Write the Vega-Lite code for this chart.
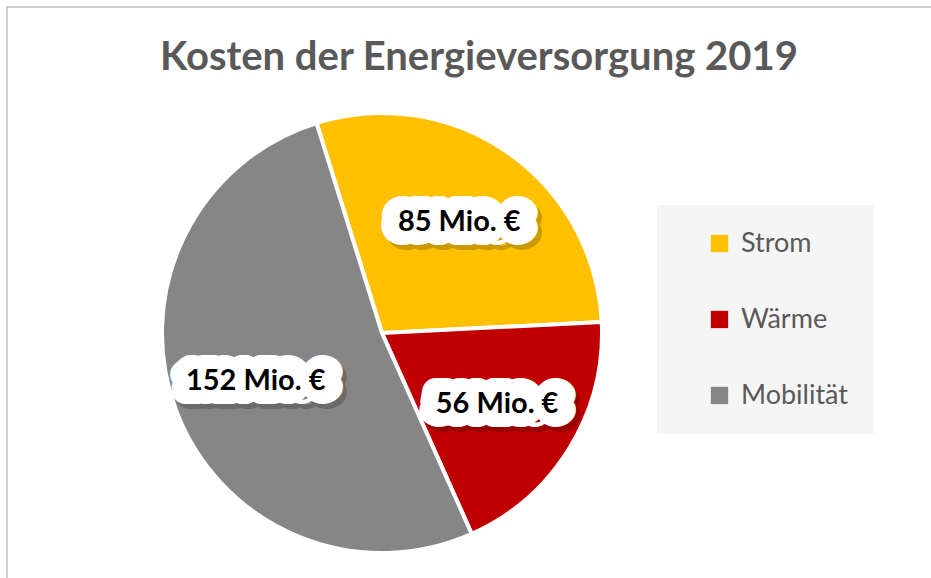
{
  "$schema": "https://vega.github.io/schema/vega-lite/v6.json",
  "width": 940,
  "height": 590,
  "autosize": "none",
  "padding": {"left": 7, "top": 7, "right": 0, "bottom": 0},
  "background": "white",
  "view": {"stroke": "#bdbdbd", "strokeWidth": 1.5},
  "config": {"view": {"stroke": "#bdbdbd", "strokeWidth": 1.5}},
  "title": {
    "text": "Kosten der Energieversorgung 2019",
    "font": "Lato",
    "fontSize": 40,
    "fontWeight": "bold",
    "color": "#595959",
    "anchor": "start",
    "offset": -71,
    "dx": 153
  },
  "data": {
    "values": [
      {"Kategorie": "Strom", "Wert": 85, "Label": "85 Mio. €", "order": 1},
      {"Kategorie": "Wärme", "Wert": 56, "Label": "56 Mio. €", "order": 2},
      {"Kategorie": "Mobilität", "Wert": 152, "Label": "152 Mio. €", "order": 3}
    ]
  },
  "encoding": {
    "theta": {"field": "Wert", "type": "quantitative", "stack": true, "scale": {"range": [-0.302, 5.981]}},
    "order": {"field": "order", "type": "quantitative"},
    "detail": {"field": "Kategorie", "type": "nominal"}
  },
  "layer": [
    {
      "mark": {"type": "arc", "outerRadius": 220, "stroke": "white", "strokeWidth": 4, "x": 375, "y": 326},
      "encoding": {
        "color": {
          "field": "Kategorie",
          "type": "nominal",
          "sort": ["Strom", "Wärme", "Mobilität"],
          "scale": {"domain": ["Strom", "Wärme", "Mobilität"], "range": ["#ffc000", "#c00000", "#868686"]},
          "legend": {
            "title": null,
            "orient": "none",
            "legendX": 650,
            "legendY": 198,
            "fillColor": "#f5f5f5",
            "padding": 25,
            "symbolType": "square",
            "symbolSize": 300,
            "symbolStrokeWidth": 0,
            "symbolOffset": 24,
            "labelFont": "Lato",
            "labelFontSize": 27,
            "labelColor": "#595959",
            "labelOffset": 8,
            "labelExpr": "datum.label + '\u00a0\u00a0\u00a0\u00a0\u00a0\u00a0\u00a0'",
            "rowPadding": 48
          }
        }
      }
    },
    {
      "mark": {"type": "text", "radius": 135, "x": 375, "y": 326, "dx": 4, "dy": 5, "font": "Lato", "fontSize": 29, "fontWeight": "bold", "fill": "#000000", "stroke": "#000000", "strokeWidth": 28, "strokeJoin": "round", "opacity": 0.2, "text": {"expr": "upper(datum.Label)"}}
    },
    {
      "mark": {"type": "text", "radius": 135, "x": 375, "y": 326, "font": "Lato", "fontSize": 29, "fontWeight": "bold", "fill": "#ffffff", "stroke": "#ffffff", "strokeWidth": 28, "strokeJoin": "round", "text": {"expr": "upper(datum.Label)"}}
    },
    {
      "mark": {"type": "text", "radius": 135, "x": 375, "y": 326, "font": "Lato", "fontSize": 29, "fontWeight": "bold", "fill": "#000000"},
      "encoding": {"text": {"field": "Label"}}
    }
  ]
}
